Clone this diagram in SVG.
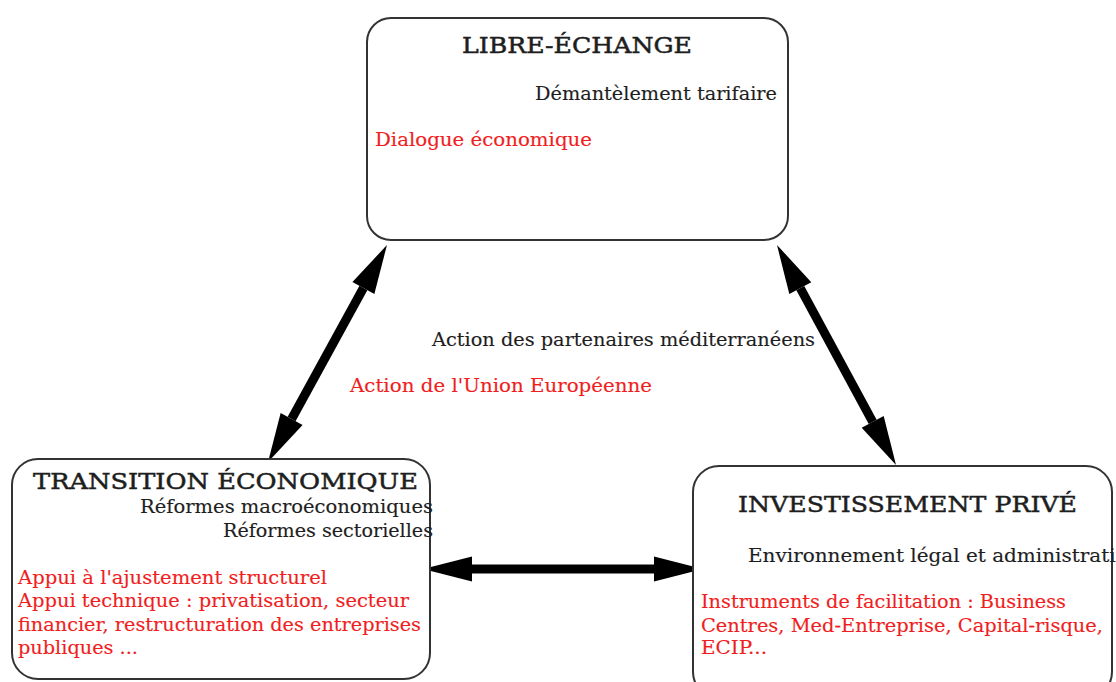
<svg xmlns="http://www.w3.org/2000/svg" width="1116" height="682" viewBox="0 0 1116 682">
<style>
.box{fill:#fff;stroke:#333;stroke-width:2}
.t{font-family:"DejaVu Serif","Liberation Serif",serif;fill:#1e1e1e}
.title{font-size:23px;stroke:#1e1e1e;stroke-width:0.5}
.b{font-size:19px;stroke:#1e1e1e;stroke-width:0.15}
.r{fill:#f01e1e;stroke:#f01e1e}
.conn{stroke:#000;stroke-width:9;fill:none;marker-start:url(#ah);marker-end:url(#ah)}
</style>
<defs>
<marker id="ah" markerUnits="userSpaceOnUse" markerWidth="52" markerHeight="28" viewBox="0 -14 52 28" refX="0" refY="0" orient="auto-start-reverse" overflow="visible">
<path d="M0,-12.5 L49,0 L0,12.5 Z" fill="#000"/>
</marker>
</defs>
<rect width="1116" height="682" fill="#fff"/>
<g id="connectors">
<line class="conn" x1="363.4" y1="288" x2="291.6" y2="419"/>
<line class="conn" x1="800.3" y1="288.1" x2="872.7" y2="421.9"/>
<line class="conn" x1="472" y1="569" x2="654" y2="569"/>
</g>
<g id="libre-echange">
<rect class="box" x="367" y="18" width="421" height="222" rx="24"/>
<text class="t title" x="462" y="53" textLength="230" lengthAdjust="spacingAndGlyphs">LIBRE-ÉCHANGE</text>
<text class="t b" x="535" y="100" textLength="242" lengthAdjust="spacingAndGlyphs">Démantèlement tarifaire</text>
<text class="t b r" x="375" y="146" textLength="217" lengthAdjust="spacingAndGlyphs">Dialogue économique</text>
</g>
<g id="transition">
<rect class="box" x="12" y="459" width="418" height="220" rx="26"/>
<text class="t title" x="33" y="489" textLength="385" lengthAdjust="spacingAndGlyphs">TRANSITION ÉCONOMIQUE</text>
<text class="t b" x="140" y="513" textLength="293" lengthAdjust="spacingAndGlyphs">Réformes macroéconomiques</text>
<text class="t b" x="223" y="537" textLength="210" lengthAdjust="spacingAndGlyphs">Réformes sectorielles</text>
<text class="t b r" x="18" y="584" textLength="309" lengthAdjust="spacingAndGlyphs">Appui à l'ajustement structurel</text>
<text class="t b r" x="18" y="607" textLength="391" lengthAdjust="spacingAndGlyphs">Appui technique : privatisation, secteur</text>
<text class="t b r" x="18" y="631" textLength="403" lengthAdjust="spacingAndGlyphs">financier, restructuration des entreprises</text>
<text class="t b r" x="18" y="654" textLength="120" lengthAdjust="spacingAndGlyphs">publiques ...</text>
</g>
<g id="investissement">
<rect class="box" x="693" y="466" width="419" height="232" rx="26"/>
<text class="t title" x="738" y="512" textLength="339" lengthAdjust="spacingAndGlyphs">INVESTISSEMENT PRIVÉ</text>
<text class="t b" x="748" y="562" textLength="375" lengthAdjust="spacingAndGlyphs">Environnement légal et administratif</text>
<text class="t b r" x="701" y="608" textLength="365" lengthAdjust="spacingAndGlyphs">Instruments de facilitation : Business</text>
<text class="t b r" x="701" y="632" textLength="402" lengthAdjust="spacingAndGlyphs">Centres, Med-Entreprise, Capital-risque,</text>
<text class="t b r" x="701" y="654" textLength="66" lengthAdjust="spacingAndGlyphs">ECIP...</text>
</g>
<g id="legend">
<text class="t b" x="432" y="346" textLength="383" lengthAdjust="spacingAndGlyphs">Action des partenaires méditerranéens</text>
<text class="t b r" x="350" y="392" textLength="302" lengthAdjust="spacingAndGlyphs">Action de l'Union Européenne</text>
</g>
</svg>
